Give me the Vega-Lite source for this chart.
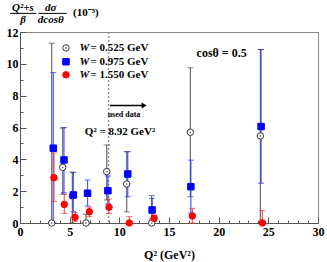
{
 "$schema": "https://vega.github.io/schema/vega-lite/v6.json",
 "width": 298, "height": 191,
 "autosize": {"type": "none"},
 "padding": {"left": 20, "top": 32, "right": 9, "bottom": 39},
 "background": "white",
 "config": {"view": {"stroke": "#888", "strokeWidth": 1}, "font": "Liberation Serif", "axis": {"labelOverlap": false, "labelBound": false}},
 "datasets": {
  "pts": [
   {"W": "0.525", "Q2": 3.19, "v": 0, "lo": 0, "hi": 11.3},
   {"W": "0.525", "Q2": 4.3, "v": 3.5, "lo": 1.82, "hi": 5.96},
   {"W": "0.525", "Q2": 5.27, "v": 1.7, "lo": 0, "hi": 3.2},
   {"W": "0.525", "Q2": 6.65, "v": 0, "lo": 0, "hi": 0.55},
   {"W": "0.525", "Q2": 8.73, "v": 3.23, "lo": 1.45, "hi": 4.9},
   {"W": "0.525", "Q2": 10.74, "v": 2.45, "lo": 0.7, "hi": 4.48},
   {"W": "0.525", "Q2": 13.26, "v": 0, "lo": 0, "hi": 1.72},
   {"W": "0.525", "Q2": 17.15, "v": 5.7, "lo": 1.65, "hi": 9.75},
   {"W": "0.525", "Q2": 24.2, "v": 5.47, "lo": 0, "hi": 10.9},
   {"W": "0.975", "Q2": 3.35, "v": 4.7, "lo": 0, "hi": 9.45},
   {"W": "0.975", "Q2": 4.43, "v": 3.96, "lo": 1.9, "hi": 6.0},
   {"W": "0.975", "Q2": 5.37, "v": 1.76, "lo": 0.7, "hi": 3.17},
   {"W": "0.975", "Q2": 6.8, "v": 1.87, "lo": 1.07, "hi": 2.7},
   {"W": "0.975", "Q2": 8.85, "v": 2.03, "lo": 1.2, "hi": 2.96},
   {"W": "0.975", "Q2": 10.85, "v": 3.08, "lo": 1.65, "hi": 4.48},
   {"W": "0.975", "Q2": 13.3, "v": 0.82, "lo": 0.25, "hi": 1.55},
   {"W": "0.975", "Q2": 17.2, "v": 2.28, "lo": 0.63, "hi": 3.95},
   {"W": "0.975", "Q2": 24.27, "v": 6.06, "lo": 2.5, "hi": 10.9},
   {"W": "1.550", "Q2": 3.42, "v": 2.85, "lo": 1.34, "hi": 4.4},
   {"W": "1.550", "Q2": 4.46, "v": 1.17, "lo": 0.6, "hi": 1.8},
   {"W": "1.550", "Q2": 5.54, "v": 0.36, "lo": 0.1, "hi": 0.65},
   {"W": "1.550", "Q2": 6.98, "v": 0.71, "lo": 0.4, "hi": 1.0},
   {"W": "1.550", "Q2": 8.96, "v": 0.99, "lo": 0.6, "hi": 1.5},
   {"W": "1.550", "Q2": 11.0, "v": 0, "lo": 0, "hi": 0.4},
   {"W": "1.550", "Q2": 13.5, "v": 0.3, "lo": 0.1, "hi": 0.5},
   {"W": "1.550", "Q2": 17.35, "v": 0.44, "lo": 0, "hi": 0.92},
   {"W": "1.550", "Q2": 24.4, "v": 0, "lo": 0, "hi": 0.78}
  ],
  "leg": [
   {"W": "0.525", "ly": 11.0},
   {"W": "0.975", "ly": 10.13},
   {"W": "1.550", "ly": 9.31}
  ]
 },
 "data": {"name": "pts"},
 "layer": [
  {
   "data": {"values": [{}]},
   "mark": {"type": "rule", "color": "#999", "strokeDash": [2, 2], "strokeWidth": 1.5},
   "encoding": {"x": {"datum": 8.92, "type": "quantitative"}}
  },
  {
   "mark": {"type": "rule", "strokeWidth": 1.2, "strokeOpacity": 0.8},
   "encoding": {
    "x": {"field": "Q2", "type": "quantitative",
      "scale": {"domain": [0, 30], "nice": false},
      "axis": {
        "values": [0,1,2,3,4,5,6,7,8,9,10,11,12,13,14,15,16,17,18,19,20,21,22,23,24,25,26,27,28,29,30],
        "tickCount": 100, "format": "d",
        "labelExpr": "datum.value % 5 === 0 ? datum.label : ''",
        "labelOverlap": false,
        "tickSize": {"condition": {"test": "datum.value % 5 === 0", "value": -6}, "value": -3},
        "domainColor": "#555", "tickColor": "#555", "grid": false,
        "labelFont": "Liberation Serif", "labelFontWeight": "bold", "labelFontSize": 12, "labelColor": "black",
        "labelPadding": 9, "labelFlush": false,
        "title": "Q² (GeV²)", "titleFont": "Liberation Serif", "titleFontSize": 12, "titleFontWeight": "bold", "titleColor": "black", "titlePadding": 9
      }},
    "y": {"field": "lo", "type": "quantitative",
      "scale": {"domain": [0, 12], "nice": false},
      "axis": {
        "values": [0,0.5,1,1.5,2,2.5,3,3.5,4,4.5,5,5.5,6,6.5,7,7.5,8,8.5,9,9.5,10,10.5,11,11.5,12],
        "tickCount": 100, "format": "d",
        "labelExpr": "datum.value % 2 === 0 ? datum.label : ''",
        "labelOverlap": false,
        "tickSize": {"condition": {"test": "datum.value % 2 === 0", "value": -6}, "value": -3},
        "domainColor": "#555", "tickColor": "#555", "grid": false,
        "labelFont": "Liberation Serif", "labelFontWeight": "bold", "labelFontSize": 12, "labelColor": "black",
        "labelPadding": 8, "labelFlush": false,
        "title": null
      }},
    "y2": {"field": "hi"},
    "color": {"field": "W", "type": "nominal", "scale": {"domain": ["0.525", "0.975", "1.550"], "range": ["#444", "#1f2fff", "#ff3030"]}, "legend": null}
   }
  },
  {
   "mark": {"type": "tick", "orient": "horizontal", "size": 6, "thickness": 1},
   "encoding": {
    "x": {"field": "Q2", "type": "quantitative"},
    "y": {"field": "hi", "type": "quantitative"},
    "color": {"field": "W", "type": "nominal", "legend": null}
   }
  },
  {
   "mark": {"type": "tick", "orient": "horizontal", "size": 6, "thickness": 1},
   "encoding": {
    "x": {"field": "Q2", "type": "quantitative"},
    "y": {"field": "lo", "type": "quantitative"},
    "color": {"field": "W", "type": "nominal", "legend": null}
   }
  },
  {
   "mark": {"type": "point", "strokeWidth": 1, "opacity": 1, "size": 42},
   "encoding": {
    "x": {"field": "Q2", "type": "quantitative"},
    "y": {"field": "v", "type": "quantitative"},
    "shape": {"field": "W", "type": "nominal", "scale": {"domain": ["0.525", "0.975", "1.550"], "range": ["circle", "square", "circle"]}, "legend": null},
    "fill": {"field": "W", "type": "nominal", "scale": {"domain": ["0.525", "0.975", "1.550"], "range": ["white", "#0000ff", "#ff0000"]}, "legend": null},
    "stroke": {"field": "W", "type": "nominal", "scale": {"domain": ["0.525", "0.975", "1.550"], "range": ["#333", "#0000ff", "#ff0000"]}, "legend": null}
   }
  },
  {
   "transform": [{"filter": "datum.W === '0.525'"}],
   "mark": {"type": "point", "filled": true, "color": "#333", "size": 3},
   "encoding": {
    "x": {"field": "Q2", "type": "quantitative"},
    "y": {"field": "v", "type": "quantitative"}
   }
  },
  {
   "data": {"name": "leg"},
   "mark": {"type": "point", "strokeWidth": 1, "opacity": 1, "size": 42},
   "encoding": {
    "x": {"datum": 4.63},
    "y": {"field": "ly", "type": "quantitative"},
    "shape": {"field": "W", "type": "nominal", "legend": null},
    "fill": {"field": "W", "type": "nominal", "legend": null},
    "stroke": {"field": "W", "type": "nominal", "legend": null}
   }
  },
  {
   "data": {"name": "leg"},
   "transform": [{"filter": "datum.W === '0.525'"}],
   "mark": {"type": "point", "filled": true, "color": "#333", "size": 3},
   "encoding": {"x": {"datum": 4.63}, "y": {"field": "ly", "type": "quantitative"}}
  },
  {
   "data": {"name": "leg"},
   "mark": {"type": "text", "text": "W", "font": "Liberation Serif", "fontStyle": "italic", "fontWeight": "bold", "fontSize": 11, "color": "black", "align": "left"},
   "encoding": {"x": {"datum": 6.0}, "y": {"field": "ly", "type": "quantitative"}}
  },
  {
   "data": {"name": "leg"},
   "mark": {"type": "text", "font": "Liberation Serif", "fontWeight": "bold", "fontSize": 11, "color": "black", "align": "left"},
   "encoding": {"x": {"datum": 7.1}, "y": {"field": "ly", "type": "quantitative"}, "text": {"value": ""}, "tooltip": null}
  },
  {
   "data": {"name": "leg"},
   "transform": [{"calculate": "'= ' + datum.W + ' GeV'", "as": "lab"}],
   "mark": {"type": "text", "font": "Liberation Serif", "fontWeight": "bold", "fontSize": 11, "color": "black", "align": "left"},
   "encoding": {"x": {"datum": 7.1}, "y": {"field": "ly", "type": "quantitative"}, "text": {"field": "lab"}}
  },
  {
   "data": {"values": [{}]},
   "mark": {"type": "rule", "color": "black", "strokeWidth": 1.5},
   "encoding": {"x": {"datum": 9.06}, "x2": {"datum": 12.4}, "y": {"datum": 7.38}}
  },
  {
   "data": {"values": [{}]},
   "mark": {"type": "point", "shape": "triangle-right", "filled": true, "color": "black", "size": 35, "opacity": 1},
   "encoding": {"x": {"datum": 12.5}, "y": {"datum": 7.38}}
  },
  {
   "data": {"values": [{}]},
   "mark": {"type": "text", "text": "used data", "font": "Liberation Serif", "fontWeight": "bold", "fontSize": 8, "color": "black"},
   "encoding": {"x": {"datum": 10.47}, "y": {"datum": 6.79}}
  },
  {
   "data": {"values": [{}]},
   "mark": {"type": "text", "text": "Q² = 8.92 GeV²", "font": "Liberation Serif", "fontWeight": "bold", "fontSize": 11, "color": "black"},
   "encoding": {"x": {"datum": 10.07}, "y": {"datum": 5.74}}
  },
  {
   "data": {"values": [{}]},
   "mark": {"type": "text", "text": "cosθ = 0.5", "font": "Liberation Serif", "fontWeight": "bold", "fontSize": 12, "color": "black"},
   "encoding": {"x": {"datum": 20.3}, "y": {"datum": 10.67}}
  },
  {
   "data": {"values": [{}]},
   "mark": {"type": "text", "text": "Q²+s", "font": "Liberation Serif", "fontStyle": "italic", "fontWeight": "bold", "fontSize": 11, "color": "black", "clip": false, "baseline": "bottom"},
   "encoding": {"x": {"datum": 0.3}, "y": {"datum": 13.2}}
  },
  {
   "data": {"values": [{}]},
   "mark": {"type": "text", "text": "β", "font": "Liberation Serif", "fontStyle": "italic", "fontWeight": "bold", "fontSize": 11, "color": "black", "clip": false},
   "encoding": {"x": {"datum": 0.3}, "y": {"datum": 12.78}}
  },
  {
   "data": {"values": [{}]},
   "mark": {"type": "text", "text": "dσ", "font": "Liberation Serif", "fontStyle": "italic", "fontWeight": "bold", "fontSize": 11, "color": "black", "clip": false, "baseline": "bottom"},
   "encoding": {"x": {"datum": 3.1}, "y": {"datum": 13.2}}
  },
  {
   "data": {"values": [{}]},
   "mark": {"type": "text", "text": "dcosθ", "font": "Liberation Serif", "fontStyle": "italic", "fontWeight": "bold", "fontSize": 11, "color": "black", "clip": false},
   "encoding": {"x": {"datum": 3.1}, "y": {"datum": 12.78}}
  },
  {
   "data": {"values": [{}]},
   "mark": {"type": "text", "text": "(10⁻⁵)", "font": "Liberation Serif", "fontWeight": "bold", "fontSize": 11, "color": "black", "clip": false},
   "encoding": {"x": {"datum": 6.63}, "y": {"datum": 13.2}}
  },
  {
   "data": {"values": [{}]},
   "mark": {"type": "rule", "color": "black", "strokeWidth": 1, "clip": false},
   "encoding": {"x": {"datum": -1.0}, "x2": {"datum": 1.65}, "y": {"datum": 13.17}}
  },
  {
   "data": {"values": [{}]},
   "mark": {"type": "rule", "color": "black", "strokeWidth": 1, "clip": false},
   "encoding": {"x": {"datum": 1.85}, "x2": {"datum": 4.7}, "y": {"datum": 13.17}}
  }
 ]
}
